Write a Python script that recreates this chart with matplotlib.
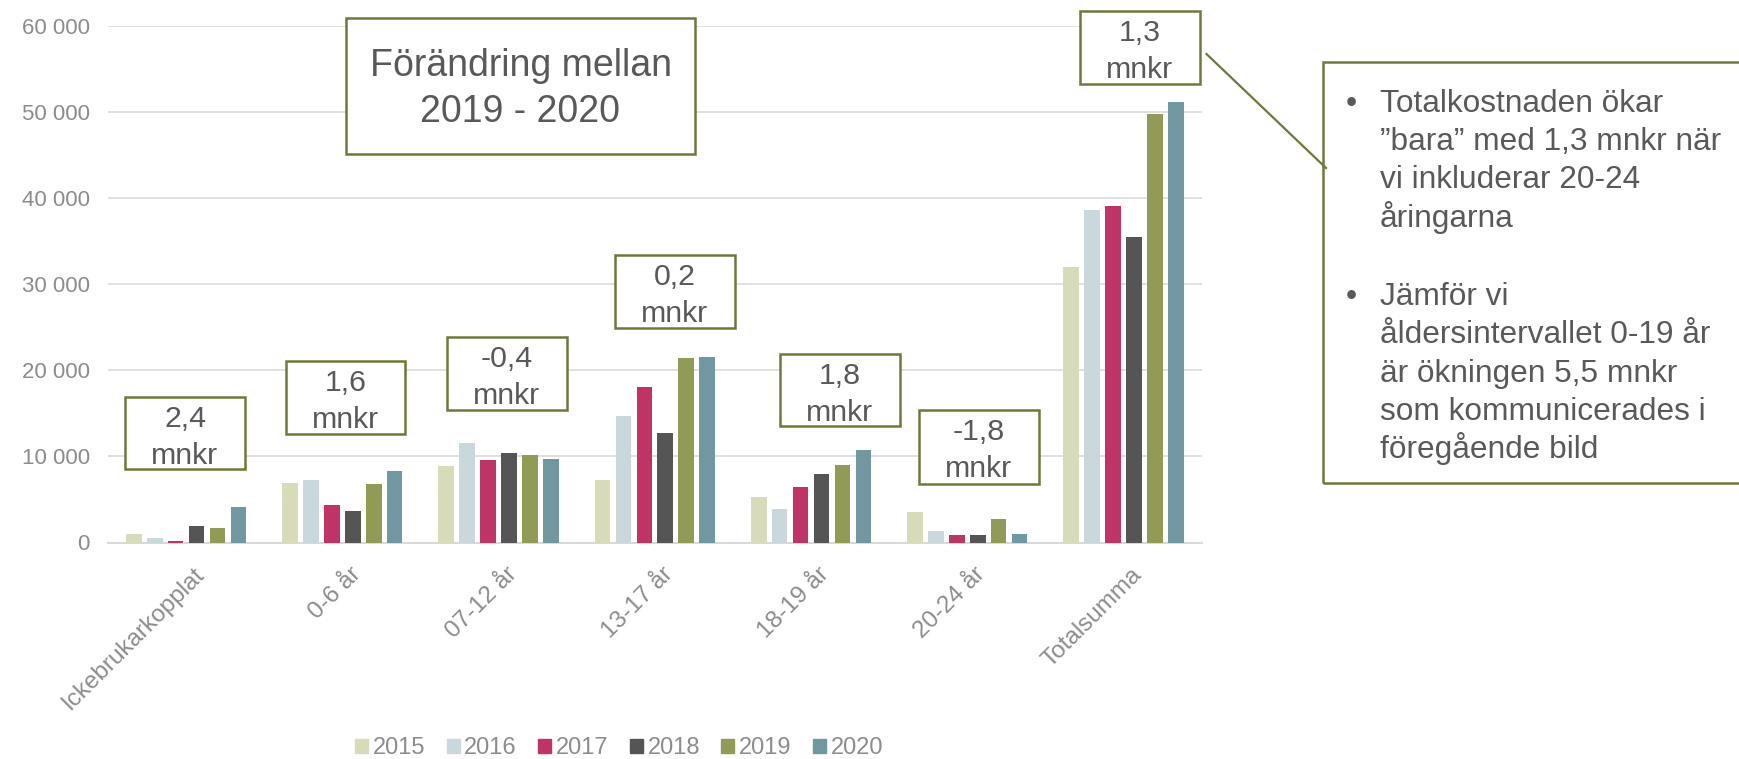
import matplotlib
matplotlib.use("Agg")
import matplotlib.pyplot as plt
import numpy as np
from matplotlib.patches import Rectangle
from matplotlib.lines import Line2D

plt.rcParams['font.family'] = ['Liberation Sans', 'DejaVu Sans']

categories = ['Ickebrukarkopplat', '0-6 år', '07-12 år', '13-17 år', '18-19 år', '20-24 år', 'Totalsumma']
years = ['2015', '2016', '2017', '2018', '2019', '2020']
v2015 = [1000, 6900, 8900, 7300, 5300, 3500, 32000]
v2016 = [500, 7300, 11500, 14700, 3900, 1300, 38600]
v2017 = [200, 4300, 9600, 18100, 6400, 850, 39000]
v2018 = [1900, 3600, 10400, 12700, 8000, 850, 35400]
v2019 = [1650, 6800, 10100, 21400, 9000, 2750, 49700]
v2020 = [4100, 8300, 9650, 21550, 10700, 1000, 51100]
series = [v2015, v2016, v2017, v2018, v2019, v2020]
colors = ['#D7DBBA', '#C9D8DD', '#C03366', '#555555', '#929B56', '#7198A1']
yticks = [0, 10000, 20000, 30000, 40000, 50000, 60000]
ytick_labels = ['0', '10 000', '20 000', '30 000', '40 000', '50 000', '60 000']

change_labels = ['2,4', '1,6', '-0,4', '0,2', '1,8', '-1,8', '1,3']
title_lines = ['Förändring mellan', '2019 - 2020']
bullets = [
    ['Totalkostnaden ökar', '”bara” med 1,3 mnkr när', 'vi inkluderar 20-24', 'åringarna'],
    ['Jämför vi', 'åldersintervallet 0-19 år', 'är ökningen 5,5 mnkr', 'som kommunicerades i', 'föregående bild'],
]

W, H = 1739, 759
fig = plt.figure(figsize=(W / 100, H / 100), dpi=100)
ax = fig.add_axes([108 / W, 1 - 542.5 / H, (1201.6 - 108) / W, (542.5 - 25.5) / H])

x = np.arange(len(categories))
pitch = 0.134
for i, vals in enumerate(series):
    ax.bar(x + (i - 2.5) * pitch, vals, width=0.1, color=colors[i], label=years[i], zorder=3)

ax.set_xlim(-0.5, len(categories) - 0.5)
ax.set_ylim(0, 60000)
ax.set_yticks(yticks)
ax.set_yticklabels(ytick_labels)
ax.yaxis.grid(True, color='#DDDDDD', linewidth=1.3, zorder=0)
for s in ['top', 'right', 'left']:
    ax.spines[s].set_visible(False)
ax.spines['bottom'].set_color('#D9D9D9')
ax.spines['bottom'].set_linewidth(1.5)
ax.tick_params(axis='y', length=0, pad=13, labelsize=16, labelcolor='#8C8C8C')
ax.tick_params(axis='x', length=0, pad=15)
ax.set_xticks(x + 0.045)
ax.set_xticklabels(categories, rotation=45, ha='right', rotation_mode='anchor',
                   fontsize=17.5, color='#8C8C8C')

handles = [Rectangle((0, 0), 1, 1, color=c) for c in colors]
fig.legend(handles, years, loc='center', bbox_to_anchor=(619 / W, 1 - 748 / H), ncol=6,
           frameon=False, fontsize=17, labelcolor='#8C8C8C', handlelength=0.55,
           handleheight=0.55, handletextpad=0.2, columnspacing=0.9)

border = '#6B7A3C'
txtc = '#595959'


def box(x0, y0, x1, y1, lines, size, baselines):
    # rectangle in pixel units (top-down), lines placed on given baselines
    fig.add_artist(Rectangle((x0 / W, 1 - y1 / H), (x1 - x0) / W, (y1 - y0) / H,
                             transform=fig.transFigure, fill=True, facecolor='white',
                             edgecolor=border, linewidth=1.8, zorder=5))
    for line, bl in zip(lines, baselines):
        fig.text((x0 + x1) / 2 / W, 1 - (y0 + bl) / H, line, ha='center', va='baseline',
                 fontsize=size, color=txtc, zorder=6)


box(346, 18, 695, 154, title_lines, 27, [58.5, 103.5])
small_boxes = [(125, 397, 245, 469), (286, 361, 405, 434), (447, 337, 567, 410),
               (615, 255, 735, 328), (780, 354, 900, 426), (919, 410, 1039, 484),
               (1080, 11, 1200, 84)]
for (bx0, by0, bx1, by1), lab in zip(small_boxes, change_labels):
    box(bx0, by0, bx1, by1, [lab, 'mnkr'], 21.8, [30, 67])

# connector line and note box
fig.add_artist(Line2D([1206.5 / W, 1326 / W], [1 - 54 / H, 1 - 168 / H],
                      transform=fig.transFigure, color=border, linewidth=1.6))
fig.add_artist(Rectangle((1323 / W, 1 - 483 / H), 500 / W, (483 - 62) / H,
                         transform=fig.transFigure, fill=False, edgecolor=border,
                         linewidth=1.8, zorder=5))
base = [111.7, 305]
for b, lines in zip(base, bullets):
    fig.text(1346 / W, 1 - b / H, '•', fontsize=22.8, color=txtc, va='baseline')
    for j, line in enumerate(lines):
        fig.text(1380 / W, 1 - (b + j * 38.3) / H, line, fontsize=22.8, color=txtc,
                 va='baseline')

fig.savefig('out.png', dpi=100)
